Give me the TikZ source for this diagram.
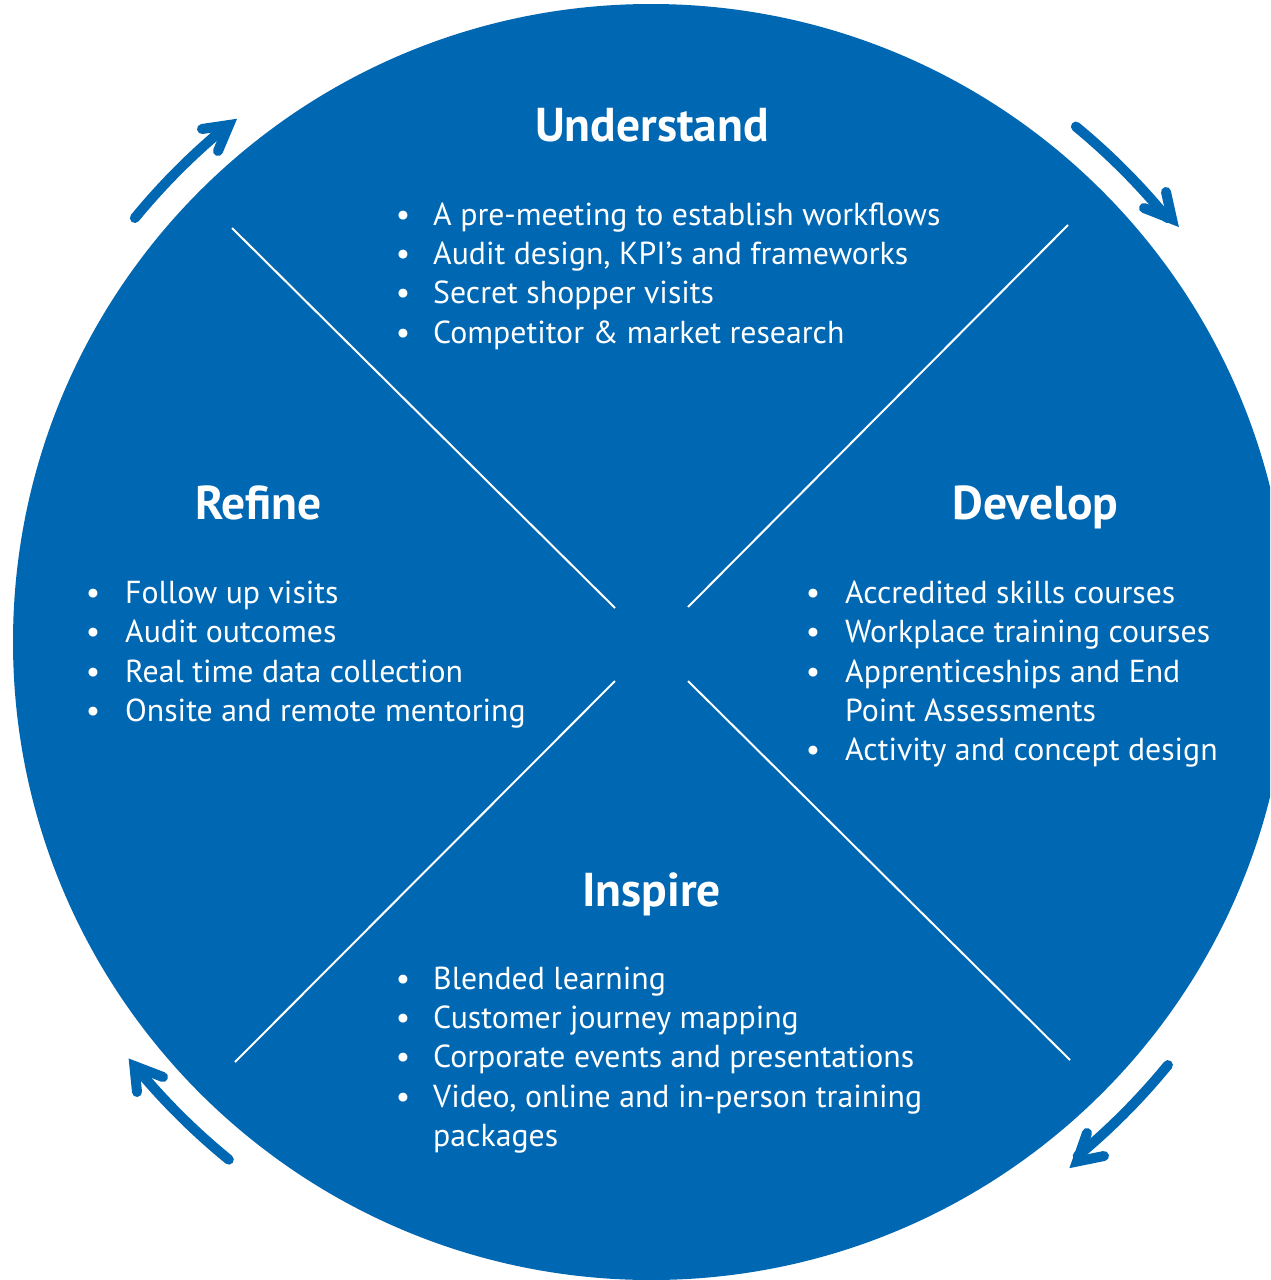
\documentclass[tikz,border=0pt]{standalone}
\usepackage{fontspec}
\setmainfont{PT Sans}
\usetikzlibrary{calc}
\definecolor{cblue}{RGB}{0,103,178}
\tikzset{
  phasetitle/.style={text=white,font=\bfseries\fontsize{47.5}{56}\selectfont,anchor=base,inner sep=0pt},
  itemtext/.style={text=white,font=\fontsize{31.8}{38}\selectfont,anchor=base west,inner sep=0pt},
  bul/.style={text=white,font=\fontsize{31.8}{38}\selectfont,anchor=base,inner sep=0pt},
  divider/.style={white,line width=2pt},
  cycshaft/.style={cblue,line width=10pt,line cap=round,line join=round},
  cychead/.style={cblue,line width=10pt,line cap=round,line join=miter},
}
\begin{document}
\begin{tikzpicture}[x=1pt,y=-1pt]
\useasboundingbox (0,0) rectangle (1270,1280);
\clip (0,0) rectangle (1270,1280);
\fill[white] (0,0) rectangle (1270,1280);
\coordinate (c) at (651,642);
\fill[cblue] (c) circle[radius=638];

% dividers
\coordinate (d1a) at (232,228);  \coordinate (d1b) at (615,608);
\coordinate (d2a) at (1068,225); \coordinate (d2b) at (688,607);
\coordinate (d3a) at (615,681);  \coordinate (d3b) at (235,1062);
\coordinate (d4a) at (688,681);  \coordinate (d4b) at (1070,1060);
\draw[divider] (d1a) -- (d1b);
\draw[divider] (d2a) -- (d2b);
\draw[divider] (d3a) -- (d3b);
\draw[divider] (d4a) -- (d4b);

% cycle arrows
\draw[cycshaft] plot[domain=-140.6:-129.8,samples=30] ({651+668*cos(\x)},{642+668*sin(\x)});
\draw[cychead] (202,129) -- (229,125) -- (218,151);
\draw[cycshaft] plot[domain=-50.5:-39.4,samples=30] ({651+668*cos(\x)},{642+668*sin(\x)});
\draw[cychead] (1166,192) -- (1172,219) -- (1144,208);
\draw[cycshaft] plot[domain=39.3:50.3,samples=30] ({651+668*cos(\x)},{642+668*sin(\x)});
\draw[cychead] (1087,1133) -- (1077,1161.5) -- (1104,1156);
\draw[cycshaft] plot[domain=129.2:140.3,samples=30] ({651+668*cos(\x)},{642+668*sin(\x)});
\draw[cychead] (163,1077) -- (134.4,1066) -- (137,1092);

% Understand
\node[phasetitle] (tU) at (652,141.7) {Understand};
\node[bul] (bU1) at (403,225) {•};
\node[bul] (bU2) at (403,264.3) {•};
\node[bul] (bU3) at (403,303.6) {•};
\node[bul] (bU4) at (403,343) {•};
\node[itemtext] (iU1) at (433,225) {A pre-meeting to establish workflows};
\node[itemtext] (iU2) at (433,264.3) {Audit design, KPI’s and frameworks};
\node[itemtext] (iU3) at (433,303.6) {Secret shopper visits};
\node[itemtext] (iU4) at (433,343) {Competitor \& market research};

% Refine
\node[phasetitle] (tR) at (258.5,519.7) {Refine};
\node[bul] (bR1) at (93,603.3) {•};
\node[bul] (bR2) at (93,642.6) {•};
\node[bul] (bR3) at (93,682) {•};
\node[bul] (bR4) at (93,721.3) {•};
\node[itemtext] (iR1) at (125,603.3) {Follow up visits};
\node[itemtext] (iR2) at (125,642.6) {Audit outcomes};
\node[itemtext] (iR3) at (125,682) {Real time data collection};
\node[itemtext] (iR4) at (125,721.3) {Onsite and remote mentoring};

% Develop
\node[phasetitle] (tD) at (1035.5,519.7) {Develop};
\node[bul] (bD1) at (813,603.3) {•};
\node[bul] (bD2) at (813,642.6) {•};
\node[bul] (bD3) at (813,682) {•};
\node[bul] (bD5) at (813,760.6) {•};
\node[itemtext] (iD1) at (845,603.3) {Accredited skills courses};
\node[itemtext] (iD2) at (845,642.6) {Workplace training courses};
\node[itemtext] (iD3) at (845,682) {Apprenticeships and End};
\node[itemtext] (iD4) at (845,721.3) {Point Assessments};
\node[itemtext] (iD5) at (845,760.6) {Activity and concept design};

% Inspire
\node[phasetitle] (tI) at (651.5,906.7) {Inspire};
\node[bul] (bI1) at (403,989) {•};
\node[bul] (bI2) at (403,1028.3) {•};
\node[bul] (bI3) at (403,1067.6) {•};
\node[bul] (bI4) at (403,1107) {•};
\node[itemtext] (iI1) at (433,989) {Blended learning};
\node[itemtext] (iI2) at (433,1028.3) {Customer journey mapping};
\node[itemtext] (iI3) at (433,1067.6) {Corporate events and presentations};
\node[itemtext] (iI4) at (433,1107) {Video, online and in-person training};
\node[itemtext] (iI5) at (433,1146.3) {packages};
\end{tikzpicture}
\end{document}
